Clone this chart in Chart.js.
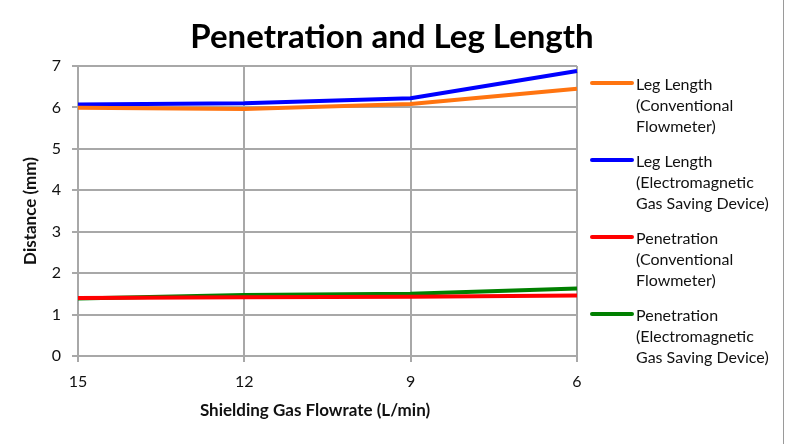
<!DOCTYPE html>
<html>
<head>
<meta charset="utf-8">
<script src="https://cdn.jsdelivr.net/npm/chart.js@4"></script>
<style>
  html, body { margin: 0; padding: 0; background: #fff; }
  #wrap { position: relative; width: 791px; height: 444px; }
  #edge { position: absolute; left: 783px; top: 0; width: 1px; height: 444px; background: #9a9a9a; }
</style>
</head>
<body>
<div id="wrap">
  <canvas id="chart" width="791" height="444"></canvas>
  <div id="edge"></div>
</div>
<script>
const flowrates = ['15', '12', '9', '6']
const legConventional = [5.99, 5.96, 6.08, 6.45]
const legElectromagnetic = [6.07, 6.1, 6.22, 6.88]
const penConventional = [1.4, 1.42, 1.43, 1.46]
const penElectromagnetic = [1.39, 1.47, 1.5, 1.63]

const chartTitle = 'Penetration and Leg Length'
const xTitle = 'Shielding Gas Flowrate (L/min)'
const legendLabels = [
  ['Leg Length', '(Conventional', 'Flowmeter)'],
  ['Leg Length', '(Electromagnetic', 'Gas Saving Device)'],
  ['Penetration', '(Conventional', 'Flowmeter)'],
  ['Penetration', '(Electromagnetic', 'Gas Saving Device)']
]

const FONT = 'Lato, "Open Sans", sans-serif'

// title, x title + legend drawn by hand: the titles don't sit centred on the
// plot area and chart.js can't wrap legend text onto several lines
const decorations = {
  id: 'decorations',
  afterDraw (chart) {
    const ctx = chart.ctx
    ctx.save()
    ctx.fillStyle = '#000'
    ctx.font = 'bold 33px ' + FONT
    ctx.textAlign = 'center'
    ctx.textBaseline = 'middle'
    ctx.fillText(chartTitle, 392, 37)

    ctx.fillStyle = '#111'
    ctx.font = 'bold 17px ' + FONT
    ctx.fillText(xTitle, 315, 411)

    const x0 = chart.chartArea.right + 15
    let y = 83
    ctx.textAlign = 'left'
    ctx.font = '16px ' + FONT
    chart.data.datasets.forEach((ds, i) => {
      ctx.strokeStyle = ds.borderColor
      ctx.lineWidth = 4
      ctx.lineCap = 'round'
      ctx.beginPath()
      ctx.moveTo(x0, y)
      ctx.lineTo(x0 + 40, y)
      ctx.stroke()
      legendLabels[i].forEach((line, j) => {
        ctx.fillText(line, x0 + 44, y + 2 + j * 21)
      })
      y += 77
    })
    ctx.restore()
  }
}

const mkSet = (label, data, color) => ({
  label: label,
  data: data,
  borderColor: color,
  backgroundColor: color,
  borderWidth: 4,
  pointRadius: 0,
  tension: 0,
  fill: false
})

const chart = new Chart(document.getElementById('chart'), {
  type: 'line',
  data: {
    labels: flowrates,
    datasets: [
      mkSet(legendLabels[0].join(' '), legConventional, '#ff7410'),
      mkSet(legendLabels[1].join(' '), legElectromagnetic, '#0000ff'),
      mkSet(legendLabels[2].join(' '), penConventional, '#ff0000'),
      mkSet(legendLabels[3].join(' '), penElectromagnetic, '#008000')
    ]
  },
  options: {
    responsive: false,
    animation: false,
    layout: {
      padding: { left: 0, right: 214, top: 66, bottom: 0 }
    },
    plugins: {
      legend: { display: false },
      tooltip: { enabled: false },
      title: { display: false }
    },
    scales: {
      x: {
        offset: false,
        grid: { color: '#a8a8a8', lineWidth: 2, tickLength: 6 },
        border: { color: '#a8a8a8', width: 2 },
        ticks: { color: '#111', font: { family: FONT, size: 16 }, padding: 10, maxRotation: 0 },
        afterFit (scale) { scale.height = 88 }
      },
      y: {
        min: 0,
        max: 7,
        grid: { color: '#a8a8a8', lineWidth: 2, tickLength: 6 },
        border: { color: '#a8a8a8', width: 2 },
        ticks: { stepSize: 1, color: '#111', font: { family: FONT, size: 16 }, padding: 11 },
        title: {
          display: true,
          text: 'Distance (mm)',
          color: '#111',
          font: { family: FONT, size: 17, weight: 'bold' },
          padding: { top: 20, bottom: 0 }
        },
        afterFit (scale) { scale.width = 78 }
      }
    }
  },
  plugins: [decorations]
})
</script>
</body>
</html>
